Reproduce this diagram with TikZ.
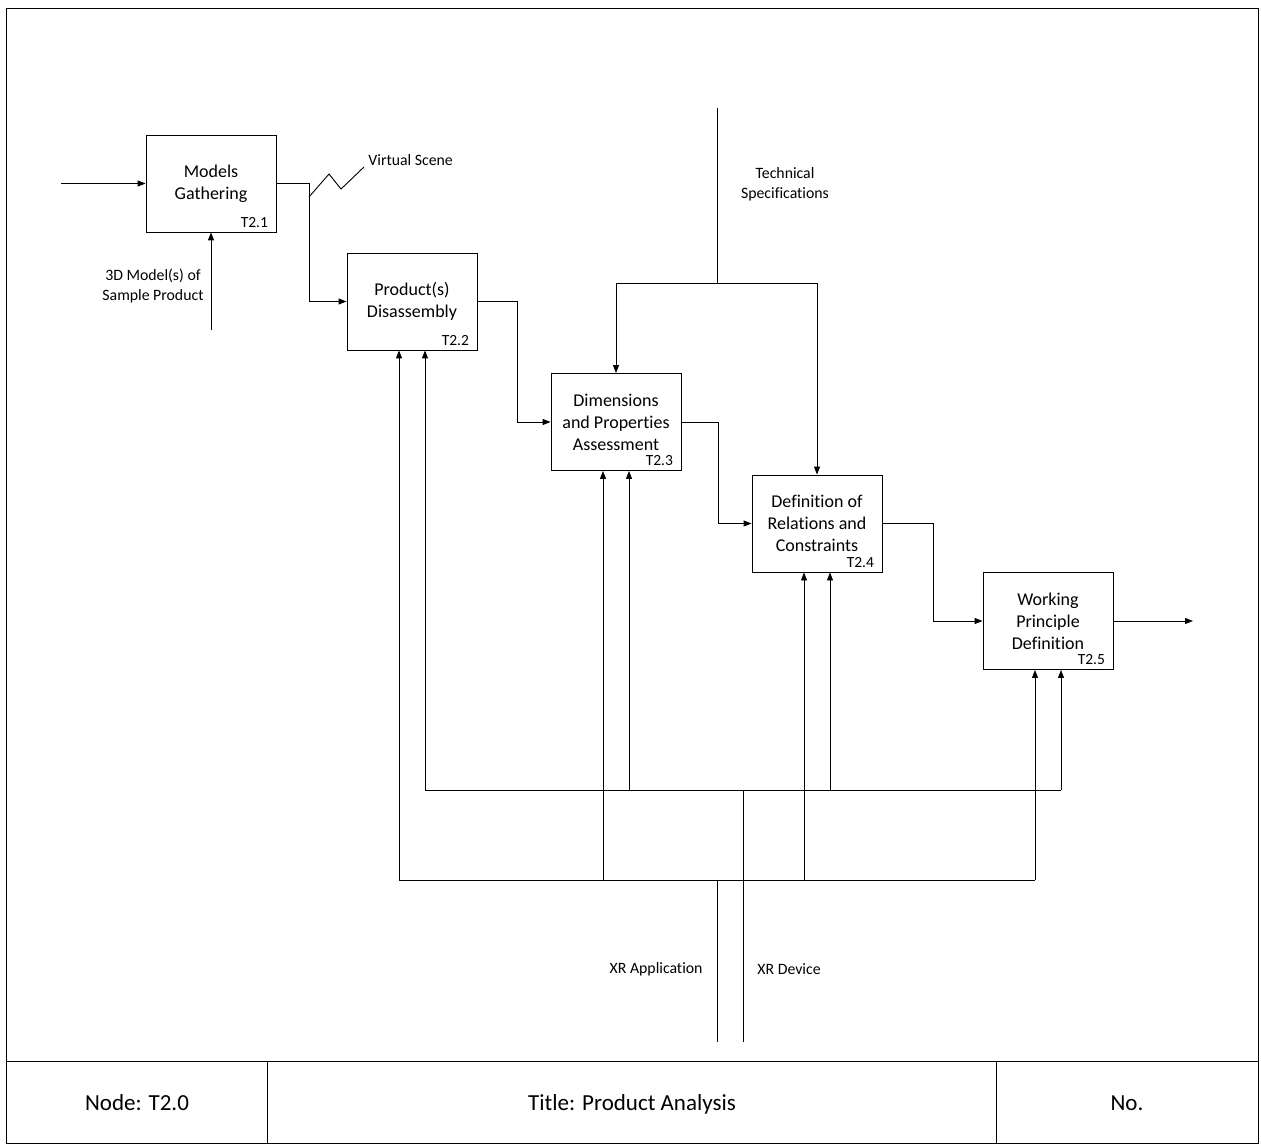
\documentclass[tikz,border=0pt]{standalone}
\usepackage{fontspec}
\setmainfont{Carlito}[Ligatures=NoCommon]
\usetikzlibrary{arrows.meta}
\begin{document}
\begin{tikzpicture}[x=1pt,y=-1pt,line width=0.9pt,
  box/.style={draw,minimum width=130pt,minimum height=97pt,inner sep=0pt,align=center,font=\fontsize{18}{22}\selectfont},
  arr/.style={-{Triangle[length=8pt,width=6pt]}},
  lbl/.style={font=\fontsize{15.8}{20}\selectfont,align=center,inner sep=0pt},
  idx/.style={font=\fontsize{15.5}{18}\selectfont,inner sep=0pt,anchor=base east},
  foot/.style={font=\fontsize{23}{26}\selectfont,inner sep=0pt,anchor=base}]
\useasboundingbox (0,0) rectangle (1261,1147);
\fill[white] (0,0) rectangle (1261,1147);
% frame
\draw (6,8) rectangle (1258,1143);
\draw (6,1061) -- (1258,1061);
\draw (267,1061) -- (267,1143);
\draw (996,1061) -- (996,1143);
\node[foot] (fnode) at (137,1110) {Node: T2.0};
\node[foot] (ftitle) at (632,1110) {Title: Product Analysis};
\node[foot] (fno) at (1127,1110) {No.};
% boxes
\node[box] (t21) at (211,183.5) {Models\\Gathering};
\node[box] (t22) at (412,301.5) {Product(s)\\Disassembly};
\node[box] (t23) at (616,422) {Dimensions\\and Properties\\Assessment};
\node[box] (t24) at (817,523.5) {Definition of\\Relations and\\Constraints};
\node[box] (t25) at (1048,621) {Working\\Principle\\Definition};
\node[idx] (i21) at ([xshift=-8pt,yshift=5pt]t21.south east) {T2.1};
\node[idx] (i22) at ([xshift=-8pt,yshift=5pt]t22.south east) {T2.2};
\node[idx] (i23) at ([xshift=-8pt,yshift=5pt]t23.south east) {T2.3};
\node[idx] (i24) at ([xshift=-8pt,yshift=5pt]t24.south east) {T2.4};
\node[idx] (i25) at ([xshift=-8pt,yshift=5pt]t25.south east) {T2.5};
% input and control of T2.1
\coordinate (in1) at (61,183.5);
\draw[arr] (in1) -- (t21.west);
\coordinate (c21) at (211,330);
\draw[arr] (c21) -- (t21.south);
\node[lbl] (l3d) at (153,286) {3D Model(s) of\\Sample Product};
% flow between boxes
\draw[arr] (t21.east) -- ++(33,0) |- (t22.west);
\draw[arr] (t22.east) -- ++(40,0) |- (t23.west);
\draw[arr] (t23.east) -- ++(37,0) |- (t24.west);
\draw[arr] (t24.east) -- ++(51,0) |- (t25.west);
\coordinate (out) at (1193,621);
\draw[arr] (t25.east) -- (out);
% virtual scene squiggle
\coordinate (vs0) at (309,197);
\coordinate (vs1) at (364,167);
\draw (vs0) -- (329,174) -- (341,189) -- (vs1);
\node[lbl,anchor=west] (lvs) at (368,160) {Virtual Scene};
% technical specifications
\coordinate (ts) at (717,108);
\coordinate (tsj) at (717,283);
\draw (ts) -- (tsj);
\draw[arr] (tsj) -| (t23.north);
\draw[arr] (tsj) -| (t24.north);
\node[lbl] (lts) at (785,184) {Technical\\Specifications};
% mechanisms
\coordinate (xa) at (717,1042);
\coordinate (xaj) at (717,880);
\coordinate (xd) at (743,1042);
\coordinate (xdj) at (743,790);
\draw (xa) -- (xaj);
\draw (xd) -- (xdj);
\coordinate (ma) at (399,880);
\coordinate (mb) at (603,880);
\coordinate (mc) at (804,880);
\coordinate (md) at (1035,880);
\coordinate (na) at (425,790);
\coordinate (nb) at (629,790);
\coordinate (nc) at (830,790);
\coordinate (nd) at (1061,790);
\draw (ma) -- (md);
\draw (na) -- (nd);
\draw[arr] (ma) -- (ma |- t22.south);
\draw[arr] (na) -- (na |- t22.south);
\draw[arr] (mb) -- (mb |- t23.south);
\draw[arr] (nb) -- (nb |- t23.south);
\draw[arr] (mc) -- (mc |- t24.south);
\draw[arr] (nc) -- (nc |- t24.south);
\draw[arr] (md) -- (md |- t25.south);
\draw[arr] (nd) -- (nd |- t25.south);
\node[lbl,anchor=east] (lxa) at (703,969) {XR Application};
\node[lbl,anchor=west] (lxd) at (757,969) {XR Device};
\end{tikzpicture}
\end{document}
